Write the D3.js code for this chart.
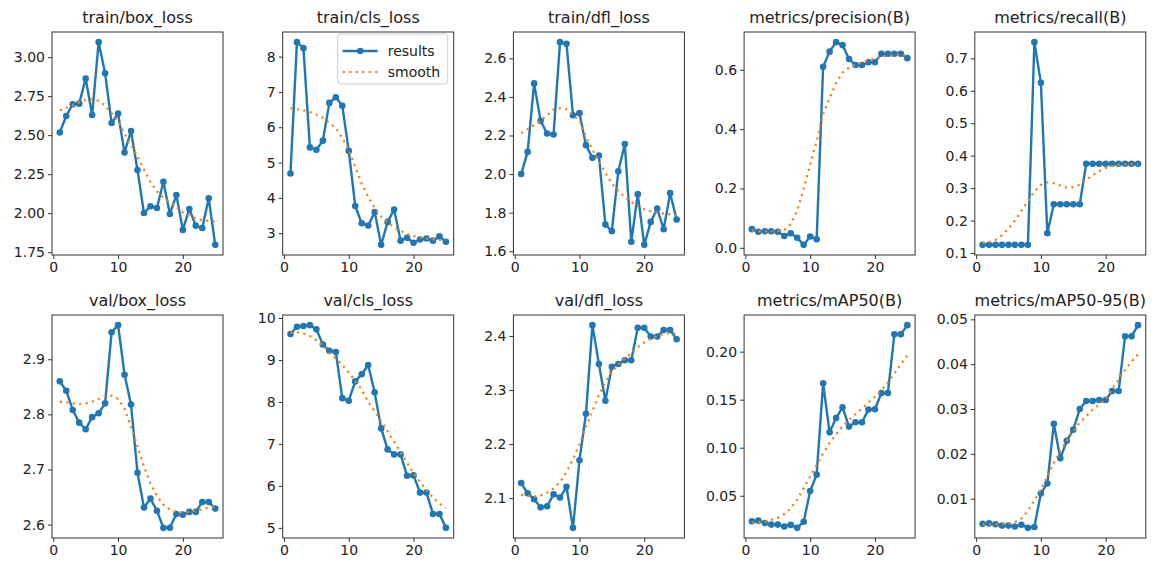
<!DOCTYPE html>
<html>
<head>
<meta charset="utf-8">
<script src="https://cdn.jsdelivr.net/npm/d3@7"></script>
<style>
  body { margin: 0; background: #fff; }
  text { font-family: "DejaVu Sans", sans-serif; fill: #222; }
</style>
</head>
<body>
<div id="chart"></div>
<script>
// Epochs and series
const epochs = d3.range(1, 26);

const trainBox = [2.517, 2.623, 2.698, 2.702, 2.862, 2.629, 3.096, 2.896, 2.578, 2.638, 2.389, 2.527, 2.276, 2.001, 2.044, 2.033, 2.201, 1.995, 2.116, 1.893, 2.027, 1.92, 1.905, 2.095, 1.797];
const trainBoxSmooth = [2.66, 2.675, 2.69, 2.71, 2.725, 2.73, 2.72, 2.69, 2.64, 2.59, 2.51, 2.44, 2.36, 2.28, 2.2, 2.14, 2.1, 2.07, 2.04, 2.005, 1.985, 1.965, 1.955, 1.95, 1.945];

const trainCls = [4.69, 8.41, 8.24, 5.43, 5.36, 5.62, 6.69, 6.85, 6.61, 5.33, 3.77, 3.28, 3.22, 3.6, 2.67, 3.32, 3.67, 2.79, 2.87, 2.73, 2.82, 2.85, 2.79, 2.91, 2.76];
const trainClsSmooth = [6.54, 6.51, 6.48, 6.43, 6.36, 6.27, 6.13, 5.97, 5.7, 5.35, 4.88, 4.4, 4.02, 3.72, 3.47, 3.31, 3.17, 3.07, 2.98, 2.92, 2.88, 2.85, 2.83, 2.81, 2.8];

const trainDfl = [2.0, 2.115, 2.47, 2.276, 2.21, 2.205, 2.684, 2.675, 2.305, 2.316, 2.15, 2.084, 2.096, 1.738, 1.704, 2.015, 2.156, 1.649, 1.896, 1.633, 1.752, 1.821, 1.714, 1.901, 1.764];
const trainDflSmooth = [2.212, 2.233, 2.254, 2.28, 2.304, 2.335, 2.342, 2.336, 2.305, 2.28, 2.193, 2.125, 2.07, 2.005, 1.953, 1.912, 1.881, 1.855, 1.833, 1.819, 1.807, 1.8, 1.795, 1.791, 1.79];

const precision = [0.063, 0.054, 0.056, 0.056, 0.054, 0.04, 0.049, 0.034, 0.01, 0.038, 0.029, 0.61, 0.661, 0.693, 0.683, 0.636, 0.616, 0.616, 0.625, 0.625, 0.654, 0.654, 0.654, 0.654, 0.639];
const precisionSmooth = [0.058, 0.056, 0.055, 0.055, 0.056, 0.06, 0.08, 0.125, 0.2, 0.28, 0.36, 0.45, 0.505, 0.555, 0.59, 0.607, 0.618, 0.625, 0.632, 0.638, 0.643, 0.647, 0.649, 0.65, 0.648];

const recall = [0.125, 0.125, 0.125, 0.125, 0.125, 0.125, 0.125, 0.125, 0.75, 0.625, 0.161, 0.25, 0.25, 0.25, 0.25, 0.25, 0.375, 0.375, 0.375, 0.375, 0.375, 0.375, 0.375, 0.375, 0.375];
const recallSmooth = [0.13, 0.133, 0.14, 0.155, 0.175, 0.2, 0.23, 0.26, 0.29, 0.31, 0.318, 0.315, 0.308, 0.302, 0.303, 0.31, 0.325, 0.34, 0.352, 0.362, 0.368, 0.372, 0.373, 0.374, 0.375];

const valBox = [2.86, 2.843, 2.808, 2.785, 2.773, 2.795, 2.802, 2.82, 2.949, 2.962, 2.872, 2.818, 2.694, 2.631, 2.647, 2.625, 2.594, 2.594, 2.619, 2.618, 2.623, 2.623, 2.641, 2.641, 2.629];
const valBoxSmooth = [2.823, 2.822, 2.82, 2.819, 2.82, 2.823, 2.828, 2.833, 2.834, 2.828, 2.81, 2.778, 2.742, 2.705, 2.675, 2.652, 2.636, 2.627, 2.623, 2.622, 2.623, 2.625, 2.628, 2.631, 2.633];

const valCls = [9.62, 9.79, 9.81, 9.83, 9.73, 9.37, 9.22, 9.19, 8.09, 8.03, 8.49, 8.66, 8.88, 8.23, 7.37, 6.87, 6.75, 6.75, 6.24, 6.25, 5.84, 5.84, 5.33, 5.33, 5.0];
const valClsSmooth = [9.65, 9.66, 9.63, 9.57, 9.47, 9.35, 9.17, 9.03, 8.88, 8.7, 8.5, 8.3, 8.0, 7.78, 7.55, 7.3, 7.05, 6.8, 6.55, 6.3, 6.1, 5.9, 5.72, 5.58, 5.48];

const valDfl = [2.128, 2.109, 2.098, 2.083, 2.085, 2.107, 2.101, 2.121, 2.045, 2.17, 2.256, 2.42, 2.348, 2.28, 2.343, 2.348, 2.355, 2.355, 2.415, 2.415, 2.399, 2.399, 2.411, 2.411, 2.394];
const valDflSmooth = [2.106, 2.104, 2.103, 2.105, 2.11, 2.118, 2.13, 2.148, 2.172, 2.2, 2.232, 2.262, 2.29, 2.315, 2.333, 2.347, 2.358, 2.368, 2.379, 2.388, 2.395, 2.4, 2.404, 2.405, 2.404];

const map50 = [0.0234, 0.0241, 0.0217, 0.02, 0.02, 0.018, 0.0197, 0.0166, 0.023, 0.055, 0.072, 0.167, 0.116, 0.131, 0.142, 0.122, 0.1266, 0.1266, 0.1397, 0.14, 0.157, 0.157, 0.218, 0.218, 0.2276];
const map50Smooth = [0.022, 0.0225, 0.023, 0.025, 0.027, 0.031, 0.037, 0.046, 0.058, 0.07, 0.082, 0.094, 0.105, 0.114, 0.122, 0.129, 0.135, 0.141, 0.147, 0.153, 0.16, 0.168, 0.177, 0.187, 0.196];

const map5095 = [0.0044, 0.0045, 0.0043, 0.004, 0.004, 0.0038, 0.0042, 0.0035, 0.0037, 0.0112, 0.0134, 0.0267, 0.019, 0.0229, 0.0254, 0.03, 0.0318, 0.0318, 0.032, 0.032, 0.034, 0.034, 0.0462, 0.0462, 0.0487];
const map5095Smooth = [0.0043, 0.0043, 0.0043, 0.0043, 0.0044, 0.0048, 0.0056, 0.0073, 0.0096, 0.0121, 0.0149, 0.018, 0.0207, 0.0229, 0.025, 0.027, 0.0284, 0.0299, 0.031, 0.0322, 0.0345, 0.0365, 0.0387, 0.0406, 0.0422];

// Tick values
const xTicks = [0, 10, 20];
const trainBoxTicks = [1.75, 2.0, 2.25, 2.5, 2.75, 3.0];
const trainClsTicks = [3, 4, 5, 6, 7, 8];
const trainDflTicks = [1.6, 1.8, 2.0, 2.2, 2.4, 2.6];
const precisionTicks = [0.0, 0.2, 0.4, 0.6];
const recallTicks = [0.1, 0.2, 0.3, 0.4, 0.5, 0.6, 0.7];
const valBoxTicks = [2.6, 2.7, 2.8, 2.9];
const valClsTicks = [5, 6, 7, 8, 9, 10];
const valDflTicks = [2.1, 2.2, 2.3, 2.4];
const map50Ticks = [0.05, 0.10, 0.15, 0.20];
const map5095Ticks = [0.01, 0.02, 0.03, 0.04, 0.05];

const panels = [
  { title: "train/box_loss", y: trainBox, s: trainBoxSmooth, ticks: trainBoxTicks, fmt: ".2f" },
  { title: "train/cls_loss", y: trainCls, s: trainClsSmooth, ticks: trainClsTicks, fmt: "d", legend: true },
  { title: "train/dfl_loss", y: trainDfl, s: trainDflSmooth, ticks: trainDflTicks, fmt: ".1f" },
  { title: "metrics/precision(B)", y: precision, s: precisionSmooth, ticks: precisionTicks, fmt: ".1f" },
  { title: "metrics/recall(B)", y: recall, s: recallSmooth, ticks: recallTicks, fmt: ".1f" },
  { title: "val/box_loss", y: valBox, s: valBoxSmooth, ticks: valBoxTicks, fmt: ".1f" },
  { title: "val/cls_loss", y: valCls, s: valClsSmooth, ticks: valClsTicks, fmt: "d" },
  { title: "val/dfl_loss", y: valDfl, s: valDflSmooth, ticks: valDflTicks, fmt: ".1f" },
  { title: "metrics/mAP50(B)", y: map50, s: map50Smooth, ticks: map50Ticks, fmt: ".2f" },
  { title: "metrics/mAP50-95(B)", y: map5095, s: map5095Smooth, ticks: map5095Ticks, fmt: ".2f" }
];

const width = 1152, height = 564;
const axW = 171, rowTop = [32, 315], axH = 223;
const blue = "#1f77b4", orange = "#ff7f0e";

const svg = d3.select("#chart").append("svg")
    .attr("width", width)
    .attr("height", height);

// matplotlib style 5% margins
function padded(ext) {
  const d = (ext[1] - ext[0]) * 0.05;
  return [ext[0] - d, ext[1] + d];
}

panels.forEach((p, i) => {
  const col = i % 5, row = Math.floor(i / 5);
  const g = svg.append("g")
      .attr("transform", `translate(${52 + col * 230.7},${rowTop[row]})`);

  const x = d3.scaleLinear().domain(padded(d3.extent(epochs))).range([0, axW]);
  const y = d3.scaleLinear().domain(padded(d3.extent(p.y.concat(p.s)))).range([axH, 0]);

  // axes
  const xa = g.append("g").attr("transform", `translate(0,${axH})`)
      .call(d3.axisBottom(x).tickValues(xTicks).tickSize(4).tickPadding(3).tickFormat(d3.format("d")));
  const ya = g.append("g")
      .call(d3.axisLeft(y).tickValues(p.ticks).tickSize(4).tickPadding(3).tickFormat(d3.format(p.fmt)));
  [xa, ya].forEach(a => {
    a.select(".domain").remove();
    a.selectAll(".tick line").attr("stroke", "#333");
    a.selectAll(".tick text").style("font-size", "14px").style("fill", "#222");
  });

  // frame
  g.append("rect")
      .attr("width", axW).attr("height", axH)
      .attr("fill", "none").attr("stroke", "#333").attr("stroke-width", 1);

  // results line + markers
  const line = d3.line().x((d, j) => x(epochs[j])).y(d => y(d));
  g.append("path").datum(p.y)
      .attr("d", line)
      .attr("fill", "none").attr("stroke", blue).attr("stroke-width", 2.4)
      .attr("stroke-linejoin", "round");
  g.selectAll("circle").data(p.y).enter().append("circle")
      .attr("cx", (d, j) => x(epochs[j])).attr("cy", d => y(d))
      .attr("r", 3.3).attr("fill", blue);

  // smooth dotted line
  g.append("path").datum(p.s)
      .attr("d", line)
      .attr("fill", "none").attr("stroke", orange).attr("stroke-width", 2.2)
      .attr("stroke-dasharray", "2.2,4.3");

  g.append("text")
      .attr("x", axW / 2).attr("y", -9)
      .attr("text-anchor", "middle")
      .style("font-size", "16px")
      .text(p.title);

  if (p.legend) {
    const lg = g.append("g").attr("transform", `translate(${axW - 116},2)`);
    lg.append("rect")
        .attr("width", 110).attr("height", 50).attr("rx", 3)
        .attr("fill", "#fff").attr("fill-opacity", 0.8)
        .attr("stroke", "#ccc");
    lg.append("line").attr("x1", 5).attr("x2", 40).attr("y1", 17).attr("y2", 17)
        .attr("stroke", blue).attr("stroke-width", 2.4);
    lg.append("circle").attr("cx", 22.5).attr("cy", 17).attr("r", 3.3).attr("fill", blue);
    lg.append("text").attr("x", 50).attr("y", 22).style("font-size", "14px").text("results");
    lg.append("line").attr("x1", 5).attr("x2", 40).attr("y1", 38).attr("y2", 38)
        .attr("stroke", orange).attr("stroke-width", 2.2).attr("stroke-dasharray", "2.2,4.3");
    lg.append("text").attr("x", 50).attr("y", 43).style("font-size", "14px").text("smooth");
  }
});
</script>
</body>
</html>
